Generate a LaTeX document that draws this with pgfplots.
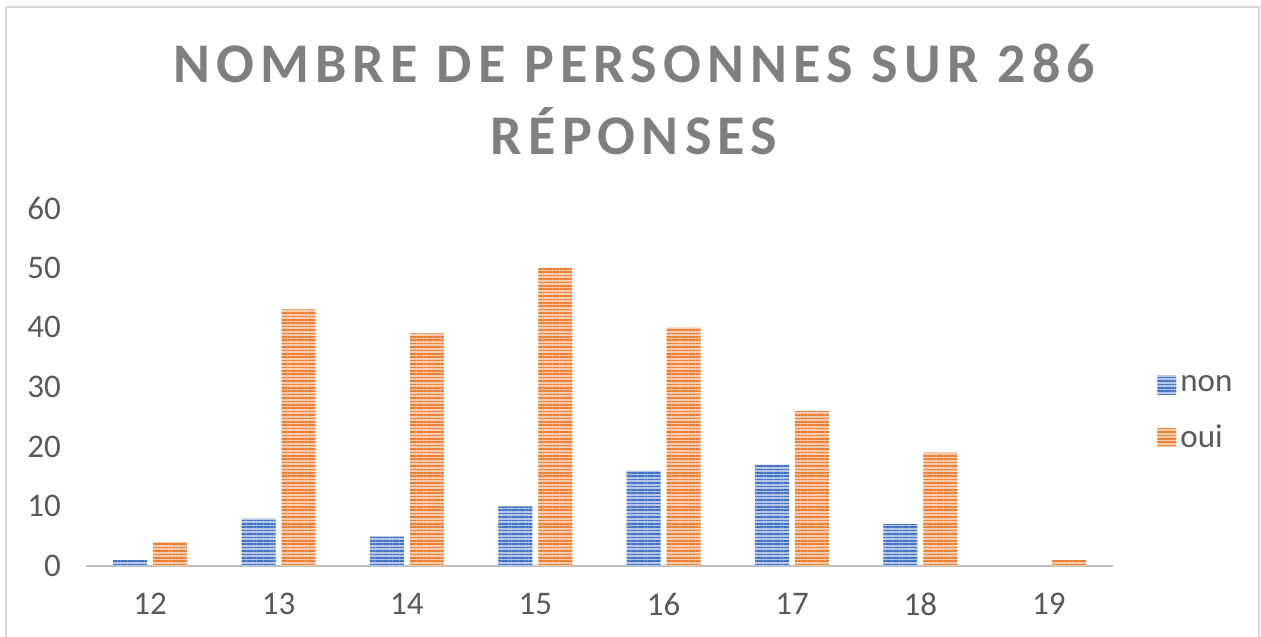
\documentclass[border=0pt]{standalone}
\usepackage{fontspec}
\setmainfont{Carlito}
\newfontfamily\titlefont[LetterSpace=11]{Carlito}
\usepackage{pgfplots}
\pgfplotsset{compat=1.18}
\usetikzlibrary{patterns.meta}

\definecolor{nonDark}{HTML}{4472C4}
\definecolor{nonLight}{HTML}{B4C7E7}
\definecolor{ouiDark}{HTML}{ED7D31}
\definecolor{ouiLight}{HTML}{F8CBAD}
\definecolor{axisGray}{HTML}{BFBFBF}
\definecolor{frameGray}{HTML}{D9D9D9}
\definecolor{textGray}{HTML}{595959}
\definecolor{titleGray}{HTML}{7F7F7F}

\pgfplotsset{
  stripebar/.style={
    draw=none, fill=#1Light,
    postaction={pattern={Lines[angle=0,distance=1.7pt,line width=0.8pt]}, pattern color=#1Dark},
    legend image code/.code={\fill[##1] (0pt,-4.75pt) rectangle (9.5pt,4.75pt);}
  }
}

\begin{document}
\begin{tikzpicture}
\useasboundingbox (0,0) rectangle (630.5pt,-318pt);
% chart frame
\draw[frameGray, line width=0.8pt] (3pt,-330pt) -- (3pt,-3.5pt) -- (629.5pt,-3.5pt) -- (629.5pt,-330pt);
% title
\node[anchor=base, text=titleGray, font=\titlefont\bfseries\fontsize{28}{32}\selectfont] at (317pt,-41.5pt) {NOMBRE DE PERSONNES SUR 286};
\node[anchor=base, text=titleGray, font=\titlefont\bfseries\fontsize{28}{32}\selectfont] at (317pt,-77.5pt) {RÉPONSES};

\begin{axis}[
  at={(43pt,-283pt)}, anchor=south west,
  scale only axis, width=513.5pt, height=179pt,
  ybar=3pt, bar width=17pt,
  xmin=11.5, xmax=19.5, ymin=0, ymax=60,
  enlargelimits=false,
  xtick={12,...,19}, ytick={0,10,...,60},
  axis x line*=bottom, axis y line*=left,
  y axis line style={draw=none},
  x axis line style={axisGray, line width=1pt, -},
  major tick length=0pt,
  /pgf/number format/assume math mode=true,
  tick label style={text=textGray, font=\fontsize{16.5}{20}\selectfont},
  yticklabel style={xshift=-9pt},
  xticklabel style={yshift=-10pt},
  legend style={at={(1.037,0.428)}, anchor=west, draw=none, fill=none,
    font=\fontsize{16.5}{20}\selectfont, text=textGray, row sep=11pt,
    nodes={inner sep=2pt}},
  legend cell align=left,
]
\addplot[stripebar=non] coordinates {(12,1) (13,8) (14,5) (15,10) (16,16) (17,17) (18,7) (19,0)};
\addlegendentry{non}
\addplot[stripebar=oui] coordinates {(12,4) (13,43) (14,39) (15,50) (16,40) (17,26) (18,19) (19,1)};
\addlegendentry{oui}
\end{axis}
\end{tikzpicture}
\end{document}
